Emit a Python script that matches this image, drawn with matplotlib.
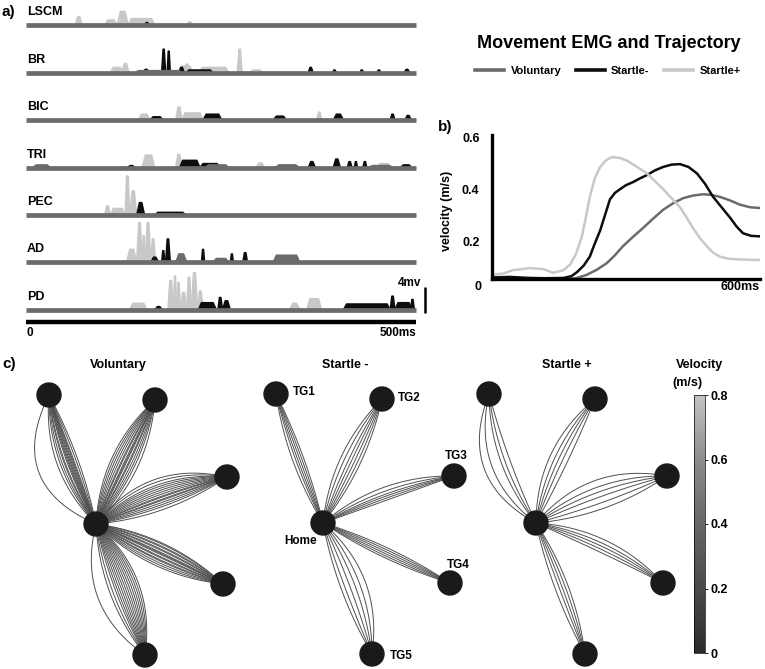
import numpy as np
import matplotlib
matplotlib.use('Agg')
import matplotlib.pyplot as plt
from matplotlib.colors import LinearSegmentedColormap, Normalize
from matplotlib.patches import Circle
from matplotlib.lines import Line2D
import matplotlib.cm as cm

plt.rcParams['font.family'] = ['Liberation Sans', 'DejaVu Sans']
plt.rcParams['font.weight'] = 'bold'
plt.rcParams['axes.labelweight'] = 'bold'

W, H = 765, 669

# ---- a) EMG bursts: (start ms, end ms, amplitude mV)
muscles = ['LSCM', 'BR', 'BIC', 'TRI', 'PEC', 'AD', 'PD']

startle_plus = {
    'LSCM': [(63, 72, 1.3), (101, 117, 0.8), (117, 131, 2.1), (131, 165, 1.0), (206, 214, 0.5)],
    'BR': [(108, 125, 0.8), (123, 132, 1.4), (195, 214, 1.0), (203, 210, 1.3), (222, 260, 0.8),
           (271, 277, 3.6), (287, 304, 0.4)],
    'BIC': [(144, 159, 0.9), (192, 200, 2.0), (200, 227, 1.1), (373, 379, 1.2)],
    'TRI': [(149, 165, 1.9), (192, 200, 2.0), (295, 306, 0.7), (450, 468, 0.6)],
    'PEC': [(101, 108, 1.4), (108, 127, 1.0), (127, 133, 6.0), (133, 142, 3.7), (142, 152, 0.9)],
    'AD': [(129, 142, 2.0), (142, 149, 6.1), (149, 153, 4.1), (153, 160, 6.1), (160, 166, 3.6)],
    'PD': [(133, 155, 1.0), (182, 189, 4.5), (189, 193, 5.2), (193, 198, 4.2), (198, 206, 2.7),
           (206, 212, 5.0), (212, 220, 5.7), (220, 227, 2.9), (338, 351, 1.0), (360, 379, 1.7)],
}
startle_minus = {
    'LSCM': [(152, 158, 0.4)],
    'BR': [(150, 158, 0.5), (174, 179, 3.6), (181, 185, 3.3), (196, 203, 0.8), (205, 240, 0.4),
           (362, 368, 0.8), (393, 398, 0.4), (428, 433, 0.4), (450, 455, 0.4), (485, 492, 0.5)],
    'BIC': [(159, 176, 0.5), (227, 251, 0.9), (317, 334, 0.6), (394, 407, 0.9), (467, 473, 0.9),
            (486, 494, 0.7)],
    'TRI': [(130, 140, 0.3), (197, 223, 1.1), (223, 249, 0.6), (362, 371, 0.9), (394, 403, 1.3),
            (412, 418, 0.9), (421, 425, 0.9), (432, 437, 0.9), (480, 495, 0.4)],
    'PEC': [(142, 152, 1.9), (165, 205, 0.4)],
    'AD': [(160, 170, 0.8), (174, 178, 1.8), (179, 185, 3.6), (225, 229, 2.0), (262, 266, 1.3),
           (278, 284, 1.5)],
    'PD': [(165, 175, 0.5), (221, 244, 1.1), (246, 252, 1.9), (252, 262, 1.4), (407, 467, 0.9),
           (467, 473, 2.1), (473, 495, 1.1), (493, 498, 1.6)],
}
voluntary = {
    'LSCM': [],
    'BR': [(140, 200, 0.3)],
    'BIC': [],
    'TRI': [(9, 31, 0.4), (230, 260, 0.4), (320, 350, 0.4), (440, 470, 0.3)],
    'PEC': [],
    'AD': [(192, 206, 1.3), (240, 260, 0.6), (317, 351, 1.1)],
    'PD': [],
}

# ---- b) velocity profiles (ms, m/s)
t_sp = [0, 25, 47, 85, 115, 137, 160, 175, 188, 201, 210, 219, 230, 242, 255, 268, 285, 302, 325,
        347, 365, 383, 402, 421, 436, 450, 466, 481, 495, 510, 530, 548, 575, 600]
v_sp = [0.07, 0.075, 0.088, 0.096, 0.092, 0.078, 0.088, 0.11, 0.15, 0.216, 0.29, 0.37, 0.44, 0.485,
        0.51, 0.523, 0.52, 0.51, 0.485, 0.46, 0.43, 0.40, 0.365, 0.33, 0.29, 0.25, 0.21, 0.18, 0.155,
        0.14, 0.132, 0.13, 0.128, 0.127]
t_sm = [0, 40, 85, 120, 160, 178, 190, 205, 219, 230, 242, 253, 264, 275, 287, 300, 316, 330, 347,
        365, 383, 402, 421, 440, 459, 477, 495, 514, 533, 548, 562, 580, 600]
v_sm = [0.06, 0.062, 0.058, 0.057, 0.058, 0.065, 0.08, 0.105, 0.14, 0.19, 0.24, 0.30, 0.36, 0.385,
        0.40, 0.415, 0.427, 0.44, 0.454, 0.472, 0.485, 0.494, 0.496, 0.485, 0.46, 0.42, 0.37, 0.33,
        0.29, 0.255, 0.23, 0.22, 0.218]
t_vol = [0, 60, 120, 160, 190, 212, 235, 257, 275, 293, 315, 338, 360, 383, 405, 428, 450, 472,
         490, 510, 532, 555, 578, 600]
v_vol = [0.055, 0.052, 0.05, 0.05, 0.058, 0.07, 0.09, 0.115, 0.145, 0.18, 0.215, 0.25, 0.285, 0.32,
         0.345, 0.365, 0.375, 0.38, 0.378, 0.37, 0.357, 0.34, 0.33, 0.327]

# ---- c) targets (cm from home) and trajectory curvature (cm at mid-reach)
targets = ['TG1', 'TG2', 'TG3', 'TG4', 'TG5']
tg_x = [-4.7, 5.9, 13.1, 12.7, 4.9]
tg_y = [12.9, 12.4, 4.7, -6.0, -13.1]

vol_curv = [
    [-0.5, -0.3, -0.1, 0.0, 0.1, 0.2, 0.3, 0.4, 0.5, 0.6, 0.8, 0.9, 1.1, 1.3, 1.6, 3.6],
    [-1.3, -1.0, -0.8, -0.6, -0.4, -0.3, -0.1, 0.0, 0.1, 0.3, 0.4, 0.6, 0.8, 1.0, 1.2, 1.4],
    [-0.9, -0.6, -0.4, -0.2, 0.0, 0.1, 0.3, 0.4, 0.6, 0.8, 1.0, 1.2, 1.4, 1.6, 1.9, 2.2],
    [-1.2, -1.0, -0.8, -0.6, -0.5, -0.3, -0.2, 0.0, 0.1, 0.2, 0.4, 0.5, 0.7, 0.8, 1.0, 1.1],
    [-2.4, -1.1, -0.8, -0.5, -0.3, -0.1, 0.1, 0.3, 0.5, 0.7, 0.9, 1.1, 1.3, 1.5, 1.7, 1.9],
]
sm_curv = [
    [-0.4, -0.2, 0.0, 0.2, 0.4, 0.7],
    [-0.8, -0.5, -0.2, 0.1, 0.4, 0.8, 1.2],
    [0.0, 0.2, 0.4, 0.6, 0.9, 1.3],
    [-0.5, -0.3, -0.1, 0.1, 0.3, 0.5],
    [-0.6, -0.2, 0.3, 0.8, 1.3, 1.9],
]
sp_curv = [
    [0.3, 0.8, 1.2, 2.2, 3.0],
    [-0.2, 0.3, 0.7, 1.1, 1.6],
    [-0.9, -0.3, 0.3, 0.8, 1.3, 2.0],
    [0.1, 0.4, 0.7, 1.0, 1.4],
    [-0.5, -0.1, 0.2, 0.5, 0.8],
]

c_vol = '#6b6b6b'
c_sm = '#0d0d0d'
c_sp = '#c8c8c8'


def rect(x0, y0, x1, y1):
    return [x0 / W, 1 - y1 / H, (x1 - x0) / W, (y1 - y0) / H]


def burst(ax, base, b, color, z):
    t0, t1, a = b
    r = min(0.35 * (t1 - t0), 4)
    ax.fill([t0, t0 + r, t1 - r, t1], [base, base + a, base + a, base],
            color=color, ec=color, lw=1.1, joinstyle='round', zorder=z)


fig = plt.figure(figsize=(W / 100, H / 100), dpi=100)

# ---------------- a) EMG
axa = fig.add_axes(rect(26, 5, 430, 330))
axa.set_xlim(0, 518)
axa.set_ylim(-46.9, 3.1)
axa.axis('off')
gap = 7.3
for i, m in enumerate(muscles):
    base = -i * gap
    for b in startle_plus[m]:
        burst(axa, base, b, c_sp, 1)
    for b in startle_minus[m]:
        burst(axa, base, b, c_sm, 2)
    for b in voluntary[m]:
        burst(axa, base, b, c_vol, 3)
    axa.plot([0, 500], [base, base], color=c_vol, lw=3.4, solid_capstyle='butt', zorder=4)
    axa.text(1.3, base + 2.0, m, fontsize=9, va='center', ha='left')

axa.plot([0, 500], [-45.7, -45.7], color='k', lw=3.2, solid_capstyle='butt', clip_on=False)
axa.plot([511, 511], [-44.3, -40.3], color='k', lw=1.8, solid_capstyle='butt', clip_on=False)
axa.text(507, -39.6, '4mv', fontsize=8.5, ha='right', va='center')
axa.text(5, -47.4, '0', fontsize=8.5, ha='center', va='center', clip_on=False)
axa.text(500, -47.4, '500ms', fontsize=8.5, ha='right', va='center', clip_on=False)
fig.text(2 / W, 1 - 12 / H, 'a)', fontsize=11, va='center')

# ---------------- b) velocity
axb = fig.add_axes(rect(492, 135, 760, 279))
axb.plot(t_vol, v_vol, color=c_vol, lw=1.8)
axb.plot(t_sm, v_sm, color=c_sm, lw=1.8)
axb.plot(t_sp, v_sp, color=c_sp, lw=1.8)
axb.set_xlim(0, 600)
axb.set_ylim(0.054, 0.608)
for s in ['top', 'right']:
    axb.spines[s].set_visible(False)
for s in ['left', 'bottom']:
    axb.spines[s].set_linewidth(2.4)
axb.set_xticks([])
axb.set_yticks([0.2, 0.4, 0.6])
axb.set_yticklabels(['0.2', '0.4', '0.6'], fontsize=9, fontweight='bold')
axb.tick_params(axis='y', length=0, pad=9)
axb.set_ylabel('velocity (m/s)', fontsize=9, fontweight='bold')
axb.yaxis.set_label_coords(-0.146, 0.47)
axb.text(-31, 0.023, '0', fontsize=9, ha='center', va='center', clip_on=False)
axb.text(600, 0.023, '600ms', fontsize=9, ha='right', va='center', clip_on=False)
fig.text(438 / W, 1 - 127 / H, 'b)', fontsize=11, va='center')

fig.text(609 / W, 1 - 43 / H, 'Movement EMG and Trajectory', ha='center', va='center', fontsize=13)
handles = [Line2D([], [], color=c_vol, lw=2.6), Line2D([], [], color=c_sm, lw=2.6),
           Line2D([], [], color=c_sp, lw=2.6)]
fig.legend(handles, ['Voluntary', 'Startle-', 'Startle+'], loc='center',
           bbox_to_anchor=(608 / W, 1 - 71 / H), ncol=3, frameon=False, handlelength=2.6,
           columnspacing=1.3, handletextpad=0.6, prop={'size': 8, 'weight': 'bold'})

# ---------------- c) trajectories
cmap = LinearSegmentedColormap.from_list('vel', ['#2b2b2b', '#4a4a4a', '#666666', '#8c8c8c', '#c4c4c4'])
s = np.linspace(0, 1, 60)


def draw_traj(ax, curv):
    for k in range(5):
        p0 = np.array([0.0, 0.0])
        p2 = np.array([tg_x[k], tg_y[k]])
        d = p2 - p0
        u = d / np.hypot(*d)
        n = np.array([-u[1], u[0]])
        for off in curv[k]:
            p1 = (p0 + p2) / 2 + n * 2 * off
            xy = ((1 - s) ** 2)[:, None] * p0 + (2 * s * (1 - s))[:, None] * p1 + (s ** 2)[:, None] * p2
            ax.plot(xy[:, 0], xy[:, 1], color='#505050', lw=0.7, zorder=1)
    ax.add_patch(Circle((0, 0), 1.2, color='#1a1a1a', zorder=3))
    for k in range(5):
        ax.add_patch(Circle((tg_x[k], tg_y[k]), 1.2, color='#1a1a1a', zorder=3))
    ax.axis('off')


panels = [
    ('Voluntary', vol_curv, (10, 375, 260, 668), 96, 524, 118),
    ('Startle -', sm_curv, (240, 375, 480, 668), 323, 523, 345),
    ('Startle +', sp_curv, (470, 375, 690, 668), 536, 523, 567),
]
for title, curv, (x0, y0, x1, y1), hx, hy, tx in panels:
    ax = fig.add_axes(rect(x0, y0, x1, y1))
    draw_traj(ax, curv)
    ax.set_xlim((x0 - hx) / 10, (x1 - hx) / 10)
    ax.set_ylim((hy - y1) / 10, (hy - y0) / 10)
    fig.text(tx / W, 1 - 365 / H, title, ha='center', va='center', fontsize=9)
    if title == 'Startle -':
        lab_dx = [1.7, 1.6, 0.2, 0.8, 1.8]
        lab_dy = [0.2, 0.1, 2.0, 1.8, -0.2]
        lab_ha = ['left', 'left', 'center', 'center', 'left']
        for k in range(5):
            ax.text(tg_x[k] + lab_dx[k], tg_y[k] + lab_dy[k], targets[k], fontsize=8.5,
                    ha=lab_ha[k], va='center', zorder=4)
        ax.text(-2.2, -1.8, 'Home', fontsize=8.5, ha='center', va='center', zorder=4)

fig.text(2 / W, 1 - 364 / H, 'c)', fontsize=11, va='center')

cax = fig.add_axes(rect(694, 395, 705, 653))
sm = cm.ScalarMappable(norm=Normalize(0, 0.8), cmap=cmap)
cb = fig.colorbar(sm, cax=cax, ticks=[0, 0.2, 0.4, 0.6, 0.8])
cb.ax.set_yticklabels(['0', '0.2', '0.4', '0.6', '0.8'], fontsize=9, fontweight='bold')
cb.ax.tick_params(length=2, width=0.6, pad=2)
cb.outline.set_linewidth(0.5)
fig.text(700 / W, 1 - 365 / H, 'Velocity', ha='center', va='center', fontsize=9)
fig.text(687 / W, 1 - 383 / H, '(m/s)', ha='center', va='center', fontsize=9)

fig.savefig('out.png', dpi=100)
